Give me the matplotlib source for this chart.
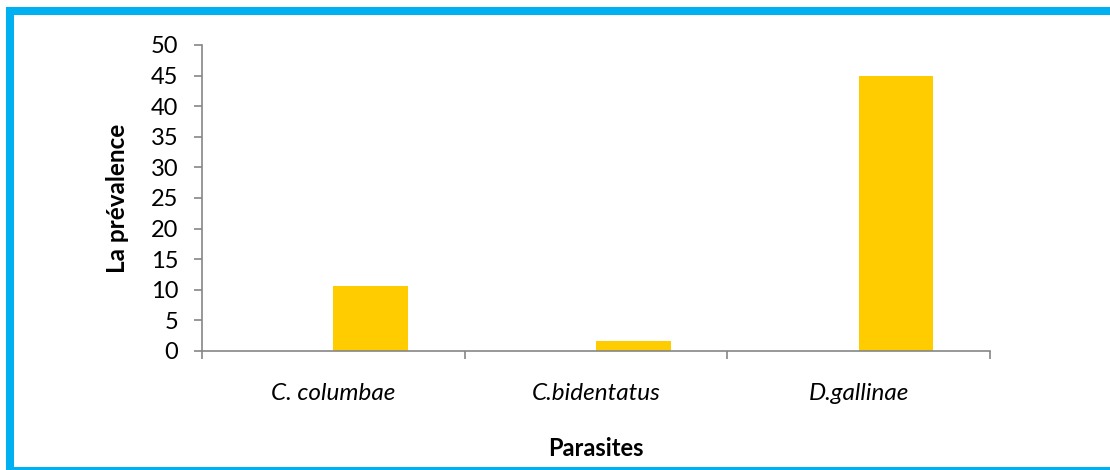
import matplotlib.pyplot as plt
from matplotlib.patches import Rectangle

parasites = ['C. columbae', 'C.bidentatus', 'D.gallinae']
prevalence = [10.6, 1.6, 45.0]
y_ticks = [0, 5, 10, 15, 20, 25, 30, 35, 40, 45, 50]

plt.rcParams['font.family'] = ['Lato', 'DejaVu Sans']

fig = plt.figure(figsize=(11.1, 4.7), dpi=100)
ax = fig.add_axes([0.182, 0.2532, 0.710, 0.6511])

# barres decalees a droite dans chaque categorie (comme dans Excel)
pos = range(len(parasites))
ax.bar([p + 0.1415 for p in pos], prevalence, width=0.285, color='#FFCC00', zorder=2)

ax.set_xlim(-0.5, len(parasites) - 0.5)
ax.set_ylim(0, 50)
ax.set_yticks(y_ticks)
ax.tick_params(axis='y', labelsize=17, length=6, width=1.2, color='#868686', pad=11)

ax.set_xticks(list(pos))
ax.set_xticklabels(parasites, fontstyle='italic', fontsize=17.5)
ax.tick_params(axis='x', which='major', length=0, pad=23)
ax.set_xticks([p - 0.5 for p in range(len(parasites) + 1)], minor=True)
ax.tick_params(axis='x', which='minor', length=6, width=1.2, color='#868686')

for s in ['top', 'right']:
    ax.spines[s].set_visible(False)
for s in ['left', 'bottom']:
    ax.spines[s].set_color('#868686')
    ax.spines[s].set_linewidth(1.2)

ax.set_ylabel('La prévalence', fontsize=17.5, fontweight='bold', labelpad=16)
ax.set_xlabel('Parasites', fontsize=17, fontweight='bold', labelpad=24)

# cadre bleu autour du graphique
fig.patches.append(Rectangle((10 / 1110, -1 / 470), 1.1, 1 - 10 / 470,
                             transform=fig.transFigure, fill=False,
                             edgecolor='#00B0F0', linewidth=5.8))

fig.savefig('out.png', dpi=100)
